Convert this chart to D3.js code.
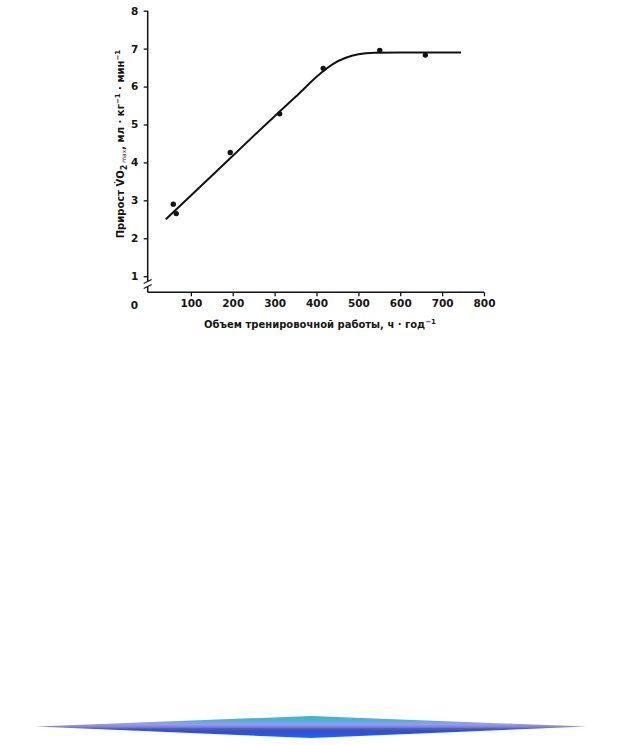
<!DOCTYPE html>
<html>
<head>
<meta charset="utf-8">
<script src="https://cdn.jsdelivr.net/npm/d3@7"></script>
<style>
  body { margin: 0; background: #fff; }
  svg { display: block; }
  .tick text, .zero { font-family: "DejaVu Sans", sans-serif; font-size: 10.5px; font-weight: bold; fill: #151515; }
  .label { font-family: "DejaVu Sans", sans-serif; font-size: 10px; font-weight: bold; fill: #151515; }
</style>
</head>
<body>
<div class="container"></div>
<script>
// training volume, h per year (points)
var volumeHours = [58, 65, 194, 312, 416, 551, 660];
// VO2max gain, ml/kg/min (points)
var vo2Gain = [2.9, 2.65, 4.26, 5.28, 6.48, 6.95, 6.83];

// fitted curve
var curveHours = [40, 150, 250, 350, 410, 440, 470, 500, 540, 600, 745];
var curveGain = [2.5, 3.65, 4.7, 5.73, 6.35, 6.6, 6.76, 6.85, 6.89, 6.9, 6.9];

var xTicks = [100, 200, 300, 400, 500, 600, 700, 800];
var yTicks = [1, 2, 3, 4, 5, 6, 7, 8];

var SVG_WIDTH = 622;
var SVG_HEIGHT = 745;

var svg = d3.select(".container")
    .append("svg")
    .attr("width", SVG_WIDTH)
    .attr("height", SVG_HEIGHT);

var x = d3.scaleLinear().domain([0, 800]).range([149, 484]);
var y = d3.scaleLinear().domain([1, 8]).range([276.2, 10.7]);

var axisX0 = 147.7;
var baseY = 292.3;

// x axis
var xAxis = svg.append("g")
    .attr("transform", "translate(0," + baseY + ")")
    .call(d3.axisBottom(x).tickValues(xTicks).tickFormat(d3.format("d"))
        .tickSize(4).tickSizeOuter(0).tickPadding(3.5));
xAxis.select(".domain").remove();
xAxis.selectAll(".tick line").attr("stroke", "#111").attr("stroke-width", 1.3);
svg.append("line")
    .attr("x1", axisX0).attr("x2", x(800))
    .attr("y1", baseY).attr("y2", baseY)
    .attr("stroke", "#111").attr("stroke-width", 1.5);

svg.append("text")
    .attr("class", "zero")
    .attr("x", 134.5).attr("y", 309)
    .attr("text-anchor", "middle")
    .text("0");

// y axis
var yAxis = svg.append("g")
    .attr("transform", "translate(" + axisX0 + ",0)")
    .call(d3.axisLeft(y).tickValues(yTicks).tickFormat(d3.format("d"))
        .tickSize(4).tickSizeOuter(0).tickPadding(5.5));
yAxis.select(".domain").remove();
yAxis.selectAll(".tick line").attr("stroke", "#111").attr("stroke-width", 1.3);

var breakTop = 281.5, breakBottom = 286.5;
svg.append("line")
    .attr("x1", axisX0).attr("x2", axisX0)
    .attr("y1", y(8)).attr("y2", breakTop)
    .attr("stroke", "#111").attr("stroke-width", 1.5);
svg.append("line")
    .attr("x1", axisX0).attr("x2", axisX0)
    .attr("y1", breakBottom).attr("y2", baseY)
    .attr("stroke", "#111").attr("stroke-width", 1.5);
[breakTop, breakBottom].forEach(function (by) {
    svg.append("line")
        .attr("x1", axisX0 - 4).attr("y1", by + 2)
        .attr("x2", axisX0 + 4).attr("y2", by - 2)
        .attr("stroke", "#111").attr("stroke-width", 1.2);
});

// curve
var line = d3.line()
    .x(function (d) { return x(d[0]); })
    .y(function (d) { return y(d[1]); })
    .curve(d3.curveMonotoneX);

svg.append("path")
    .datum(d3.zip(curveHours, curveGain))
    .attr("fill", "none")
    .attr("stroke", "#111")
    .attr("stroke-width", 2)
    .attr("d", line);

svg.selectAll(".dot")
    .data(d3.zip(volumeHours, vo2Gain))
    .enter()
    .append("circle")
    .attr("class", "dot")
    .attr("cx", function (d) { return x(d[0]); })
    .attr("cy", function (d) { return y(d[1]); })
    .attr("r", 2.7)
    .attr("fill", "#111");

// axis titles
var xLabel = svg.append("text")
    .attr("class", "label")
    .attr("x", 320).attr("y", 328)
    .attr("text-anchor", "middle");
xLabel.append("tspan").text("Объем тренировочной работы, ч · год");
xLabel.append("tspan").attr("dy", -4).style("font-size", "7px").text("−1");

var yLabel = svg.append("text")
    .attr("class", "label")
    .attr("text-anchor", "middle")
    .attr("transform", "translate(124,144) rotate(-90)");
yLabel.append("tspan").text("Прирост V\u0307O");
yLabel.append("tspan").attr("dy", 3).style("font-size", "8px").text("2");
yLabel.append("tspan").attr("dy", -1).style("font-size", "6px").style("font-weight", "normal").text(" max");
yLabel.append("tspan").attr("dy", -2).text(", мл · кг");
yLabel.append("tspan").attr("dy", -4).style("font-size", "7px").text("−1");
yLabel.append("tspan").attr("dy", 4).text(" · мин");
yLabel.append("tspan").attr("dy", -4).style("font-size", "7px").text("−1");

// decorative spindle at the bottom
var defs = svg.append("defs");
var grad = defs.append("linearGradient")
    .attr("id", "spindle")
    .attr("gradientUnits", "userSpaceOnUse")
    .attr("x1", 0).attr("x2", 0).attr("y1", 716).attr("y2", 738);
[
    [0, "#1fc4c6"], [0.2, "#4fb0e0"], [0.38, "#9a98f2"], [0.5, "#7c84dc"],
    [0.58, "#4c5cae"], [0.72, "#2c4fd8"], [1, "#1e66f0"]
].forEach(function (s) {
    grad.append("stop").attr("offset", s[0]).attr("stop-color", s[1]);
});
svg.append("path")
    .attr("d", "M36,726.6 L311,716 L586,726.6 L311,738 Z")
    .attr("fill", "url(#spindle)");
</script>
</body>
</html>
